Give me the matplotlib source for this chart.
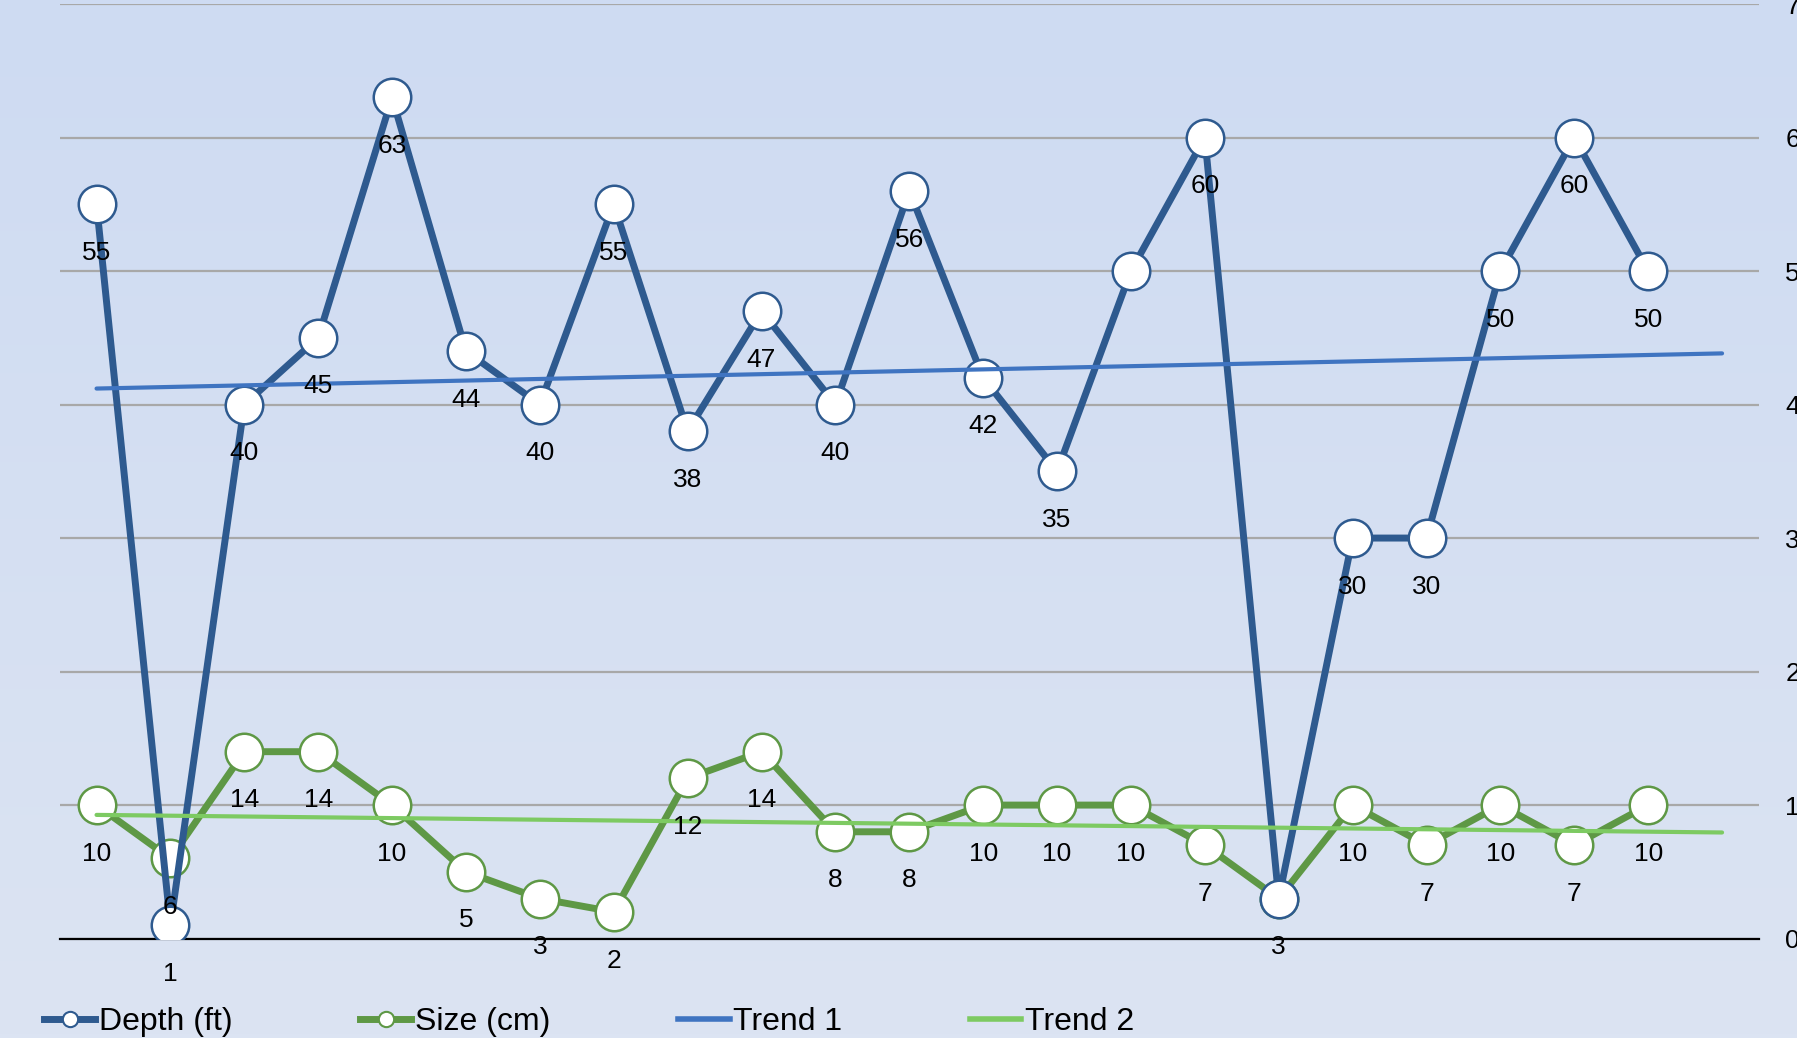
import numpy as np
import matplotlib
matplotlib.use("Agg")
import matplotlib.pyplot as plt
from matplotlib.lines import Line2D

plt.rcParams['font.family'] = ['Liberation Sans', 'DejaVu Sans']

depth = [55, 1, 40, 45, 63, 44, 40, 55, 38, 47, 40, 56, 42, 35, 50, 60, 3, 30, 30, 50, 60, 50]
size = [10, 6, 14, 14, 10, 5, 3, 2, 12, 14, 8, 8, 10, 10, 10, 7, 3, 10, 7, 10, 7, 10]
depth_hidden_labels = [14]
size_hidden_labels = [16]
yticks = [0, 10, 20, 30, 40, 50, 60, 70]
series_names = ["Depth (ft)", "Size (cm)", "Trend 1", "Trend 2"]

c_depth = "#2e5a8f"
c_size = "#5e9845"
c_t1 = "#3f74c1"
c_t2 = "#7dca62"

W, H = 1797, 1038
fig = plt.figure(figsize=(W / 100, H / 100), dpi=100)

# gradient background
bg = fig.add_axes([0, 0, 1, 1], zorder=-10)
top = np.array([0xce, 0xdb, 0xf2]) / 255
bot = np.array([0xdc, 0xe4, 0xf3]) / 255
t = np.linspace(0, 1, 256)[:, None]
grad = top[None, :] * (1 - t) + bot[None, :] * t
bg.imshow(grad[:, None, :], aspect='auto', extent=[0, 1, 0, 1])
bg.axis('off')

ax = fig.add_axes([59.6 / W, 1 - 938.6 / H, (1759 - 59.6) / W, (938.6 - 4) / H])
ax.patch.set_alpha(0)

x = np.arange(len(depth))
n_ext = len(depth) + 1
xt = np.arange(n_ext)

p1 = np.polyfit(x, depth, 1)
p2 = np.polyfit(x, size, 1)

ax.plot(x, depth, color=c_depth, lw=5, marker='o', ms=27, mfc='white',
        mec=c_depth, mew=1.8, zorder=4, solid_joinstyle='round')
ax.plot(x, size, color=c_size, lw=5, marker='o', ms=27, mfc='white',
        mec=c_size, mew=1.8, zorder=3, solid_joinstyle='round')
ax.plot(xt, np.polyval(p1, xt), color=c_t1, lw=3, zorder=5, solid_capstyle='round')
ax.plot(xt, np.polyval(p2, xt), color=c_t2, lw=3, zorder=5, solid_capstyle='round')

for i, v in enumerate(depth):
    if i in depth_hidden_labels:
        continue
    ax.annotate(str(v), (i, v), xytext=(0, -35), textcoords='offset points',
                ha='center', va='center', fontsize=19, color='black', zorder=6)
for i, v in enumerate(size):
    if i in size_hidden_labels:
        continue
    ax.annotate(str(v), (i, v), xytext=(0, -35), textcoords='offset points',
                ha='center', va='center', fontsize=19, color='black', zorder=6)

ax.set_xlim(-0.5, 22.5)
ax.set_ylim(0, 70)
ax.set_yticks(yticks)
ax.set_yticklabels([str(v) for v in yticks])
ax.yaxis.tick_right()
ax.tick_params(axis='y', length=0, pad=19, labelsize=19)
ax.set_xticks([])
ax.grid(axis='y', color='#a8a8a8', lw=1.6, zorder=0)
for s in ['left', 'right', 'top']:
    ax.spines[s].set_visible(False)
ax.spines['bottom'].set_color('black')
ax.spines['bottom'].set_linewidth(1.6)
ax.set_axisbelow(True)

handles = [
    Line2D([], [], color=c_depth, lw=5, marker='o', ms=11, mfc='white', mec=c_depth, mew=1.5),
    Line2D([], [], color=c_size, lw=5, marker='o', ms=11, mfc='white', mec=c_size, mew=1.5),
    Line2D([], [], color=c_t1, lw=4),
    Line2D([], [], color=c_t2, lw=4),
]
fig.legend(handles, series_names, loc='center left', bbox_to_anchor=(44 / W, 1 - 1022 / H),
           ncol=4, frameon=False, fontsize=23, handlelength=1.6, handletextpad=0.12,
           columnspacing=4.0, borderaxespad=0, borderpad=0)

fig.savefig("out.png", dpi=100)
